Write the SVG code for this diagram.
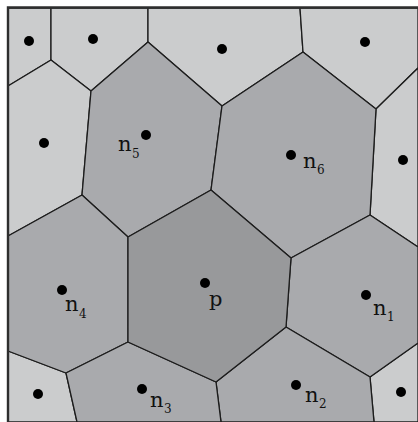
<svg xmlns="http://www.w3.org/2000/svg" width="418" height="422" viewBox="0 0 418 422">
<style>
.light{fill:#cbcccd}
.mid{fill:#a9aaad}
.dark{fill:#98999b}
.cell{stroke:#1c1c1c;stroke-width:1.3;stroke-linejoin:round}
.site{fill:#000}
.lbl{font-family:"DejaVu Serif","Liberation Serif",serif;font-size:21px;fill:#111}
.sub{font-size:12px}
.frame{stroke:#2e2e2e;stroke-width:2.4;fill:none}
</style>
<rect width="418" height="422" fill="#fff"/>
<g id="cell-tl1"><polygon class="cell light" points="8,8 51,8 51,60 8,86"/><circle class="site" cx="29" cy="41" r="5"/></g>
<g id="cell-tl2"><polygon class="cell light" points="51,8 148,8 148,42 91,91 51,60"/><circle class="site" cx="93" cy="39" r="5"/></g>
<g id="cell-top"><polygon class="cell light" points="148,8 300,8 303,52 222,106 148,42"/><circle class="site" cx="222" cy="49" r="5"/></g>
<g id="cell-tr"><polygon class="cell light" points="300,8 418,8 418,68 376,109 303,52"/><circle class="site" cx="365" cy="42" r="5"/></g>
<g id="cell-l"><polygon class="cell light" points="8,86 51,60 91,91 82,195 8,236"/><circle class="site" cx="44" cy="143" r="5"/></g>
<g id="cell-r"><polygon class="cell light" points="376,109 418,68 418,247 370,215"/><circle class="site" cx="403" cy="160" r="5"/></g>
<g id="cell-bl"><polygon class="cell light" points="8,351 66,373 77,422 8,422"/><circle class="site" cx="38" cy="394" r="5"/></g>
<g id="cell-br"><polygon class="cell light" points="370,377 418,343 418,422 374,422"/><circle class="site" cx="401" cy="392" r="5"/></g>
<g id="n5"><polygon class="cell mid" points="91,91 148,42 222,106 211,190 128,237 82,195"/><circle class="site" cx="146" cy="135" r="5"/><text class="lbl" x="118" y="151">n<tspan class="sub" x="132" y="158">5</tspan></text></g>
<g id="n6"><polygon class="cell mid" points="222,106 303,52 376,109 370,215 291,258 211,190"/><circle class="site" cx="291" cy="155" r="5"/><text class="lbl" x="303" y="168">n<tspan class="sub" x="317" y="174">6</tspan></text></g>
<g id="n4"><polygon class="cell mid" points="8,236 82,195 128,237 128,342 66,373 8,351"/><circle class="site" cx="62" cy="290" r="5"/><text class="lbl" x="65" y="311">n<tspan class="sub" x="79" y="318">4</tspan></text></g>
<g id="n1"><polygon class="cell mid" points="370,215 418,247 418,343 370,377 286,327 291,258"/><circle class="site" cx="366" cy="295" r="5"/><text class="lbl" x="373" y="315">n<tspan class="sub" x="387" y="321">1</tspan></text></g>
<g id="n2"><polygon class="cell mid" points="286,327 370,377 374,422 221,422 216,382"/><circle class="site" cx="296" cy="385" r="5"/><text class="lbl" x="305" y="402">n<tspan class="sub" x="319" y="408">2</tspan></text></g>
<g id="n3"><polygon class="cell mid" points="128,342 216,382 221,422 77,422 66,373"/><circle class="site" cx="142" cy="389" r="5"/><text class="lbl" x="150" y="407">n<tspan class="sub" x="164" y="413">3</tspan></text></g>
<g id="p"><polygon class="cell dark" points="128,237 211,190 291,258 286,327 216,382 128,342"/><circle class="site" cx="205" cy="283" r="5"/><text class="lbl" x="209" y="306">p</text></g>
<g id="frame"><polyline class="frame" points="8,422 8,7.5 418,7.5"/></g>
</svg>
